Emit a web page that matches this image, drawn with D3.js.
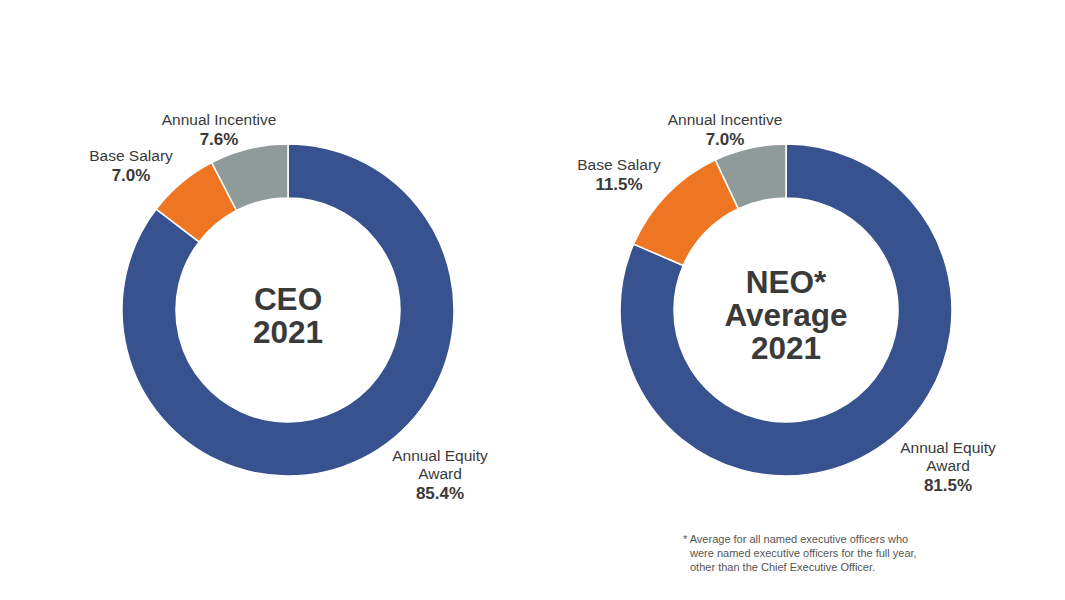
<!DOCTYPE html>
<html>
<head>
<meta charset="utf-8">
<script src="https://cdn.jsdelivr.net/npm/d3@7"></script>
<style>
  body { margin: 0; background: #fff; }
  svg text { font-family: Arial, "Liberation Sans", Helvetica, sans-serif; fill: #3a3a3a; }
</style>
</head>
<body>
<svg width="1065" height="600"></svg>
<script>
// Pay components (clockwise from 12 o'clock)
const categories = ["Annual Equity Award", "Base Salary", "Annual Incentive"];
const ceoValues = [85.4, 7.0, 7.6];
const neoValues = [81.5, 11.5, 7.0];
const ceoTitle = ["CEO", "2021"];
const neoTitle = ["NEO*", "Average", "2021"];
const footnote = [
    "* Average for all named executive officers who",
    "were named executive officers for the full year,",
    "other than the Chief Executive Officer."
];

const color = d3.scaleOrdinal()
    .domain(categories)
    .range(["#37528f", "#ee7623", "#8f9b9b"]);

const svg = d3.select("svg");
const outerR = 166, innerR = 112;

const pie = d3.pie().sort(null).value(d => d.value);
const arc = d3.arc().innerRadius(innerR).outerRadius(outerR);

// label placement per donut, relative to the donut center
const ceoLabels = [
    { lines: ["Annual Equity", "Award"], dx: 152, dy: 151 },
    { lines: ["Base Salary"], dx: -157, dy: -149 },
    { lines: ["Annual Incentive"], dx: -69, dy: -185 }
];
const neoLabels = [
    { lines: ["Annual Equity", "Award"], dx: 162, dy: 143 },
    { lines: ["Base Salary"], dx: -167, dy: -140 },
    { lines: ["Annual Incentive"], dx: -61, dy: -185 }
];

function drawDonut(cx, cy, values, title, labels) {
    const data = categories.map((c, i) => ({ name: c, value: values[i] }));
    const g = svg.append("g").attr("transform", `translate(${cx},${cy})`);

    g.selectAll("path")
        .data(pie(data))
        .join("path")
        .attr("d", arc)
        .attr("fill", d => color(d.data.name))
        .attr("stroke", "#fff")
        .attr("stroke-width", 1.5);

    // center title
    const n = title.length;
    g.selectAll("text.title")
        .data(title)
        .join("text")
        .attr("class", "title")
        .attr("text-anchor", "middle")
        .attr("y", (d, i) => (i - (n - 1) / 2) * 33 + 16)
        .style("font-size", "31.5px")
        .style("font-weight", "bold")
        .text(d => d);

    // outside labels
    labels.forEach((lab, i) => {
        const t = g.append("text")
            .attr("text-anchor", "middle")
            .attr("transform", `translate(${lab.dx},${lab.dy})`);
        lab.lines.forEach((line, j) => {
            t.append("tspan")
                .attr("x", 0)
                .attr("y", j * 18)
                .style("font-size", "15.5px")
                .text(line);
        });
        t.append("tspan")
            .attr("x", 0)
            .attr("y", lab.lines.length * 18 + 2)
            .style("font-size", "17px")
            .style("font-weight", "bold")
            .text(d3.format(".1f")(values[i]) + "%");
    });
}

drawDonut(288, 310, ceoValues, ceoTitle, ceoLabels);
drawDonut(786, 310, neoValues, neoTitle, neoLabels);

svg.append("g")
    .selectAll("text")
    .data(footnote)
    .join("text")
    .attr("x", (d, i) => i === 0 ? 683 : 690)
    .attr("y", (d, i) => 543 + i * 14)
    .style("font-size", "11px")
    .style("fill", "#555")
    .text(d => d);
</script>
</body>
</html>
